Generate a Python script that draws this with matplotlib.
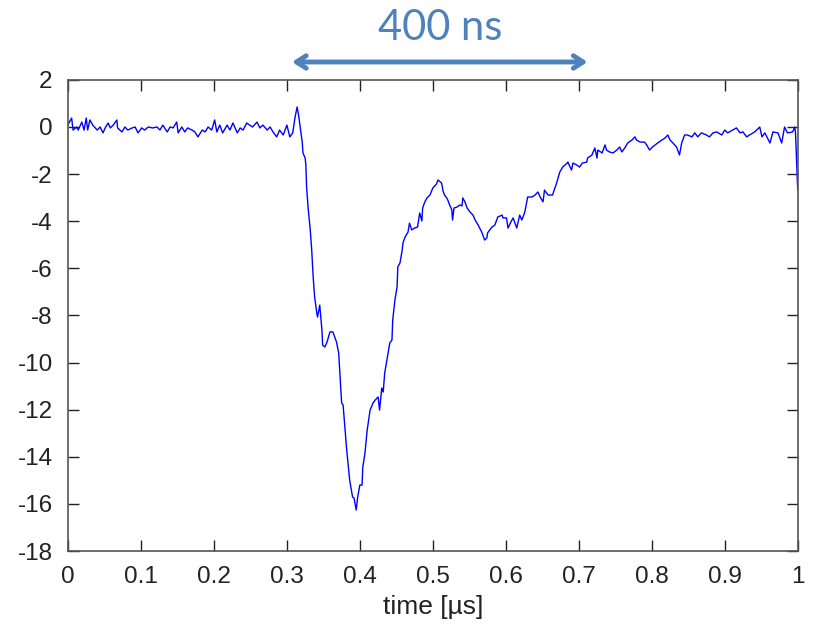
import matplotlib
matplotlib.use("Agg")
import matplotlib.pyplot as plt

# Recorded pulse: time in microseconds, signal amplitude
time_us = [
    0.000, 0.005, 0.007, 0.012, 0.014, 0.019, 0.022, 0.025, 0.027, 0.030,
    0.034, 0.040, 0.044, 0.048, 0.051, 0.055, 0.058, 0.062, 0.067, 0.068,
    0.074, 0.078, 0.082, 0.088, 0.092, 0.096, 0.101, 0.105, 0.110, 0.116,
    0.122, 0.126, 0.130, 0.136, 0.140, 0.144, 0.149, 0.151, 0.156, 0.160,
    0.164, 0.170, 0.174, 0.178, 0.184, 0.188, 0.192, 0.197, 0.201, 0.204,
    0.208, 0.212, 0.218, 0.222, 0.226, 0.232, 0.236, 0.240, 0.245, 0.249,
    0.253, 0.259, 0.263, 0.267, 0.273, 0.277, 0.281, 0.286, 0.290, 0.295,
    0.300, 0.304, 0.308, 0.311, 0.314, 0.316, 0.321, 0.322, 0.325, 0.326,
    0.327, 0.329, 0.330, 0.332, 0.334, 0.336, 0.338, 0.341, 0.342, 0.345,
    0.348, 0.349, 0.352, 0.355, 0.359, 0.363, 0.368, 0.371, 0.375, 0.377,
    0.382, 0.386, 0.390, 0.392, 0.395, 0.397, 0.400, 0.403, 0.404, 0.407,
    0.410, 0.414, 0.418, 0.421, 0.425, 0.427, 0.430, 0.432, 0.434, 0.437,
    0.441, 0.444, 0.445, 0.448, 0.451, 0.452, 0.455, 0.458, 0.459, 0.462,
    0.466, 0.468, 0.471, 0.475, 0.479, 0.482, 0.485, 0.486, 0.489, 0.492,
    0.496, 0.500, 0.505, 0.507, 0.512, 0.514, 0.516, 0.519, 0.521, 0.523,
    0.526, 0.527, 0.529, 0.533, 0.537, 0.540, 0.541, 0.544, 0.547, 0.551,
    0.555, 0.558, 0.562, 0.567, 0.571, 0.574, 0.575, 0.578, 0.581, 0.585,
    0.589, 0.595, 0.596, 0.601, 0.603, 0.607, 0.610, 0.615, 0.619, 0.622,
    0.626, 0.630, 0.636, 0.640, 0.644, 0.647, 0.651, 0.653, 0.658, 0.664,
    0.670, 0.674, 0.678, 0.684, 0.685, 0.690, 0.692, 0.697, 0.701, 0.705,
    0.711, 0.712, 0.718, 0.722, 0.725, 0.726, 0.732, 0.736, 0.738, 0.742,
    0.747, 0.752, 0.756, 0.759, 0.763, 0.767, 0.773, 0.777, 0.779, 0.784,
    0.790, 0.793, 0.797, 0.801, 0.808, 0.814, 0.818, 0.822, 0.825, 0.829,
    0.834, 0.838, 0.841, 0.845, 0.849, 0.855, 0.859, 0.863, 0.868, 0.875,
    0.879, 0.884, 0.889, 0.896, 0.900, 0.904, 0.911, 0.916, 0.921, 0.925,
    0.930, 0.934, 0.941, 0.948, 0.951, 0.955, 0.962, 0.966, 0.973, 0.978,
    0.982, 0.986, 0.993, 0.996, 0.997, 1.000,
]
signal = [
    0.10, 0.38, -0.13, 0.00, -0.13, 0.21, -0.13, 0.38, -0.13, 0.30,
    0.08, -0.13, 0.00, -0.25, -0.04, 0.17, -0.04, 0.08, 0.30, -0.04,
    -0.21, 0.00, -0.13, -0.04, 0.00, -0.25, -0.04, -0.13, 0.00, -0.04,
    0.00, -0.13, 0.08, -0.21, 0.00, -0.04, 0.21, -0.25, 0.00, -0.21,
    -0.04, -0.13, -0.21, -0.42, -0.13, -0.21, 0.00, -0.13, 0.30, -0.21,
    0.08, -0.25, 0.08, -0.13, 0.17, -0.25, -0.04, -0.13, 0.17, 0.08,
    0.00, 0.21, -0.04, 0.08, -0.13, 0.00, -0.21, -0.42, -0.13, -0.34,
    0.08, -0.42, -0.25, 0.38, 0.85, 0.51, -0.64, -1.10, -1.32, -1.61,
    -2.55, -3.40, -3.74, -4.37, -5.22, -6.37, -7.22, -7.90, -8.07, -7.56,
    -8.62, -9.26, -9.34, -9.13, -8.70, -8.70, -9.13, -9.60, -11.72, -11.80,
    -13.72, -14.99, -15.71, -15.75, -16.26, -15.71, -15.20, -15.20, -14.44, -13.84,
    -12.87, -12.02, -11.72, -11.59, -11.46, -12.02, -11.08, -11.25, -10.45, -9.89,
    -9.17, -9.04, -8.20, -7.35, -6.79, -5.94, -5.77, -5.22, -4.93, -4.67,
    -4.46, -4.08, -4.37, -4.29, -4.25, -3.65, -3.99, -3.44, -3.18, -3.01,
    -2.89, -2.59, -2.42, -2.25, -2.38, -2.72, -2.89, -3.01, -3.14, -3.31,
    -3.52, -3.95, -3.44, -3.40, -3.31, -3.35, -3.01, -3.18, -3.44, -3.61,
    -3.74, -3.95, -4.16, -4.46, -4.80, -4.71, -4.50, -4.37, -4.25, -4.16,
    -3.82, -3.74, -3.86, -3.86, -4.29, -4.03, -3.86, -4.29, -3.74, -3.95,
    -3.61, -2.97, -2.97, -2.89, -2.76, -2.97, -3.18, -2.68, -2.89, -2.89,
    -2.34, -1.91, -1.70, -1.53, -1.49, -1.83, -1.53, -1.61, -1.70, -1.53,
    -1.49, -1.32, -1.19, -0.89, -1.32, -0.98, -1.10, -0.76, -0.98, -1.06,
    -1.10, -0.98, -0.85, -1.06, -0.89, -0.68, -0.55, -0.42, -0.55, -0.64,
    -0.64, -0.76, -0.98, -0.85, -0.68, -0.55, -0.47, -0.34, -0.55, -0.68,
    -0.85, -1.19, -0.68, -0.34, -0.34, -0.42, -0.25, -0.42, -0.25, -0.34,
    -0.42, -0.25, -0.21, -0.34, -0.13, -0.25, -0.13, -0.04, -0.25, -0.21,
    -0.42, -0.34, -0.21, 0.00, -0.42, -0.25, -0.68, -0.21, -0.25, -0.68,
    0.00, -0.25, -0.21, 0.00, -0.25, -2.68,
]

x_ticks = [0, 0.1, 0.2, 0.3, 0.4, 0.5, 0.6, 0.7, 0.8, 0.9, 1]
x_tick_labels = ["0", "0.1", "0.2", "0.3", "0.4", "0.5", "0.6", "0.7", "0.8", "0.9", "1"]
y_ticks = [2, 0, -2, -4, -6, -8, -10, -12, -14, -16, -18]

span_start, span_end = 0.307, 0.712
span_label = "400 ns"

plt.rcParams["font.family"] = ["Liberation Sans", "DejaVu Sans"]

fig = plt.figure(figsize=(8.19, 6.29), dpi=100)
ax = fig.add_axes([0.083, 0.124, 0.891, 0.749])

ax.plot(time_us, signal, color="#0000ff", linewidth=1.0)

ax.set_xlim(0, 1)
ax.set_ylim(-18, 2)
ax.set_xticks(x_ticks)
ax.set_xticklabels(x_tick_labels)
ax.set_yticks(y_ticks)
ax.set_yticklabels([str(v) for v in y_ticks])

ax.tick_params(axis="both", which="major", direction="in", top=True, right=True,
               length=8, width=1, color="#222222", labelsize=17.5, labelcolor="#222222")
ax.tick_params(axis="x", pad=11)
ax.tick_params(axis="y", pad=11)
for spine in ax.spines.values():
    spine.set_color("#555555")
    spine.set_linewidth(1.2)

ax.set_xlabel("time [\u00b5s]", fontsize=19, color="#222222", labelpad=5)

# Span marker above the plot
ax.annotate("", xy=(span_end, 2.76), xytext=(span_start, 2.76),
            xycoords="data", textcoords="data", annotation_clip=False,
            arrowprops=dict(arrowstyle="<->,head_length=0.7,head_width=0.45",
                            color="#4f81bd", lw=3.5, capstyle="round",
                            joinstyle="round", shrinkA=0, shrinkB=0))
ax.text((span_start + span_end) / 2, 4.2, span_label, ha="center", va="center",
        fontsize=30, color="#4f81bd", family=["Lato", "DejaVu Sans"], clip_on=False)

fig.savefig("out.png", dpi=100)
